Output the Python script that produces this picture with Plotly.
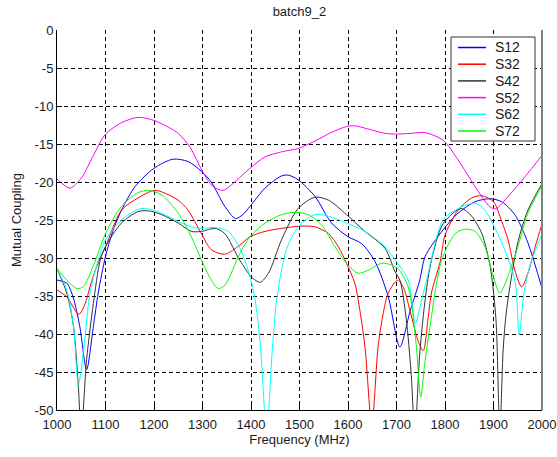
import plotly.graph_objects as go

# ---------------- data ----------------
f_s12 = [1000, 1020, 1033, 1047, 1061, 1075, 1085, 1100, 1115, 1133, 1161, 1200, 1239, 1270, 1298, 1318,
         1346, 1368, 1383, 1398, 1429, 1463, 1477, 1497, 1532, 1566, 1600, 1628, 1656, 1683, 1707, 1728,
         1748, 1759, 1796, 1827, 1862, 1893, 1917, 1944, 1971, 2000]
s12 = [-32.9, -33.3, -35.1, -39.0, -44.7, -39.0, -34.6, -29.8, -26.5, -23.7, -20.6, -18.2, -17.0, -17.3, -18.6, -20.0,
       -23.2, -24.8, -24.3, -23.2, -20.8, -19.2, -19.1, -19.7, -21.9, -25.4, -27.2, -28.1, -30.5, -35.1, -41.7, -37.0,
       -32.9, -29.8, -26.3, -24.1, -22.6, -22.2, -22.6, -24.3, -28.0, -34.0]

f_s32 = [1000, 1020, 1045, 1058, 1068, 1082, 1100, 1133, 1167, 1200, 1216, 1250, 1270, 1298, 1318, 1346,
         1377, 1398, 1429, 1463, 1504, 1532, 1560, 1580, 1597, 1614, 1621, 1635, 1649, 1662, 1672, 1683,
         1703, 1715, 1730, 1745, 1755, 1765, 1772, 1790, 1800, 1827, 1855, 1876, 1900, 1917, 1930, 1944,
         1958, 1971, 1986, 2000]
s32 = [-34.2, -35.1, -37.4, -36.0, -33.8, -31.1, -28.5, -23.7, -22.1, -21.1, -21.3, -22.4, -23.7, -26.8, -28.9, -29.5,
       -28.3, -27.2, -26.5, -26.1, -25.8, -25.9, -26.8, -28.5, -30.7, -33.3, -35.5, -41.7, -52.0, -41.7, -37.5, -34.6,
       -32.9, -34.0, -37.5, -41.0, -42.2, -38.0, -34.6, -30.5, -27.0, -23.7, -22.1, -21.8, -22.6, -25.2, -27.6, -31.6,
       -33.8, -32.0, -28.5, -25.5]

f_s42 = [1000, 1020, 1034, 1044, 1050, 1061, 1075, 1089, 1100, 1133, 1167, 1189, 1216, 1250, 1277, 1298,
         1326, 1346, 1377, 1401, 1419, 1436, 1463, 1497, 1532, 1560, 1597, 1635, 1676, 1697, 1707, 1720,
         1730, 1738, 1748, 1760, 1772, 1796, 1833, 1855, 1876, 1893, 1905, 1913, 1920, 1927, 1950, 1971, 2000]
s42 = [-31.4, -34.6, -39.0, -46.9, -53.0, -43.4, -36.0, -30.3, -28.5, -25.4, -23.9, -23.8, -24.3, -25.4, -26.5, -26.5,
       -26.1, -26.8, -30.3, -32.5, -33.2, -32.0, -27.6, -23.5, -22.0, -22.4, -24.3, -26.5, -28.7, -31.8, -32.9, -38.0,
       -45.0, -53.0, -42.5, -35.0, -30.3, -25.5, -23.5, -24.5, -26.8, -31.1, -38.0, -53.0, -42.0, -36.8, -28.0, -23.7, -20.2]

f_s52 = [1000, 1027, 1050, 1075, 1100, 1133, 1167, 1200, 1230, 1250, 1275, 1300, 1320, 1342, 1370, 1398,
         1429, 1465, 1497, 1532, 1565, 1597, 1614, 1640, 1676, 1697, 1730, 1759, 1796, 1827, 1862, 1893,
         1905, 1930, 1965, 2000]
s52 = [-19.6, -20.8, -19.5, -16.5, -13.7, -12.2, -11.5, -11.9, -12.8, -13.6, -15.5, -18.6, -20.5, -21.1, -19.8, -18.2,
       -16.7, -16.0, -15.6, -14.6, -13.5, -12.7, -12.6, -13.0, -13.6, -13.7, -13.6, -13.5, -14.5, -17.1, -20.6, -23.3,
       -23.5, -21.9, -19.3, -16.5]

f_s62 = [1000, 1020, 1034, 1044, 1055, 1068, 1085, 1100, 1133, 1167, 1184, 1216, 1250, 1277, 1298, 1326,
         1353, 1377, 1394, 1408, 1420, 1432, 1444, 1453, 1473, 1497, 1532, 1560, 1597, 1635, 1676, 1700,
         1724, 1739, 1750, 1762, 1796, 1827, 1862, 1882, 1917, 1944, 1953, 1962, 1975, 2000]
s62 = [-31.4, -34.2, -39.0, -46.7, -42.0, -34.6, -30.3, -27.6, -25.0, -23.6, -23.5, -24.1, -25.2, -25.9, -26.1, -26.0,
       -26.5, -28.7, -31.6, -35.3, -42.0, -53.0, -42.0, -35.5, -28.9, -25.9, -24.3, -24.5, -25.4, -26.5, -28.5, -30.5,
       -32.9, -38.6, -36.0, -32.9, -25.0, -23.5, -22.8, -23.7, -28.0, -32.9, -40.1, -35.0, -31.0, -26.8]

f_s72 = [1000, 1020, 1040, 1054, 1075, 1100, 1133, 1167, 1189, 1216, 1250, 1277, 1298, 1318, 1332, 1346,
         1377, 1398, 1429, 1463, 1490, 1518, 1546, 1573, 1597, 1621, 1642, 1669, 1683, 1703, 1724, 1740,
         1750, 1758, 1769, 1793, 1821, 1841, 1862, 1882, 1900, 1913, 1944, 1971, 2000]
s72 = [-31.4, -32.9, -34.0, -33.8, -31.0, -26.8, -23.2, -21.4, -21.1, -21.7, -24.1, -27.2, -30.3, -32.9, -34.0, -33.6,
       -29.4, -27.2, -25.4, -24.3, -24.0, -24.3, -25.7, -28.5, -30.7, -32.0, -31.6, -30.7, -30.8, -31.4, -33.8, -41.0,
       -48.3, -44.0, -39.0, -30.3, -26.8, -26.2, -26.5, -28.5, -32.5, -34.6, -29.8, -24.1, -20.5]

series_names = ["S12", "S32", "S42", "S52", "S62", "S72"]
series_x = [f_s12, f_s32, f_s42, f_s52, f_s62, f_s72]
series_y = [s12, s32, s42, s52, s62, s72]
series_colors = ["#0000ff", "#ff0000", "#333333", "#ff00ff", "#00ffff", "#00ff00"]

x_ticks = [1000, 1100, 1200, 1300, 1400, 1500, 1600, 1700, 1800, 1900, 2000]
y_ticks = [0, -5, -10, -15, -20, -25, -30, -35, -40, -45, -50]

# ---------------- figure ----------------
FONT = "Liberation Sans, Arial, sans-serif"
TXT = "#1a1a1a"
fig = go.Figure()
for name, xs, ys, col in zip(series_names, series_x, series_y, series_colors):
    fig.add_trace(go.Scatter(x=xs, y=ys, name=name, mode="lines", showlegend=False,
                             line=dict(color=col, width=1, shape="spline", smoothing=0.8)))

fig.update_layout(
    width=557, height=457,
    margin=dict(l=57, r=15, t=30, b=47),
    paper_bgcolor="white", plot_bgcolor="white",
    font=dict(family=FONT, size=13, color=TXT),
    title=dict(text="batch9_2", x=0.5375, xanchor="center", y=0.975, yanchor="middle",
               font=dict(family=FONT, size=13, color=TXT)),
    showlegend=False,
)
fig.update_xaxes(range=[1000, 2000], tickvals=x_ticks, ticktext=[str(v) for v in x_ticks],
                 showgrid=True, gridcolor="#000", griddash="4px,3px", gridwidth=1,
                 showline=True, linecolor="#000", linewidth=1, mirror=False,
                 ticks="inside", ticklen=5, tickcolor="#000", zeroline=False,
                 ticklabelstandoff=2, automargin=False,
                 title=dict(text="Frequency (MHz)", standoff=4, font=dict(family=FONT, size=13)))
fig.update_yaxes(range=[-50, 0], tickvals=y_ticks, ticktext=[str(v) for v in y_ticks],
                 showgrid=True, gridcolor="#000", griddash="4px,3px", gridwidth=1,
                 showline=True, linecolor="#000", linewidth=1, mirror=False,
                 ticks="inside", ticklen=5, tickcolor="#000", zeroline=False,
                 automargin=False,
                 title=dict(text="Mutual Coupling", standoff=10, font=dict(family=FONT, size=13)))
# right frame edge (gray, as in the reference)
fig.add_shape(type="line", xref="paper", yref="paper", x0=1, x1=1, y0=0, y1=1,
              line=dict(color="#808080", width=2))

# ---------------- legend box (MATLAB style, inside top-right) ----------------
PX_W, PX_H = 485.0, 380.0          # plot area size in pixels
def px(xp):  # pixel offset from plot left -> paper x
    return xp / PX_W
def py(yp):  # pixel offset from plot top -> paper y
    return 1 - yp / PX_H

box_l, box_r, box_t, box_b = 394, 478, 7, 111
fig.add_shape(type="rect", xref="paper", yref="paper",
              x0=px(box_l), x1=px(box_r), y0=py(box_b), y1=py(box_t),
              line=dict(color="#333333", width=1), fillcolor="white", layer="above")
row0, row_step = 17.5, 16.7
for i, (name, col) in enumerate(zip(series_names, series_colors)):
    yy = py(row0 + i * row_step)
    fig.add_shape(type="line", xref="paper", yref="paper",
                  x0=px(401), x1=px(429), y0=yy, y1=yy,
                  line=dict(color=col, width=1.5), layer="above")
    fig.add_annotation(xref="paper", yref="paper", x=px(436), y=yy,
                       text=name, showarrow=False, xanchor="left", yanchor="middle",
                       font=dict(family=FONT, size=14, color=TXT))

fig.write_html("out.html")
